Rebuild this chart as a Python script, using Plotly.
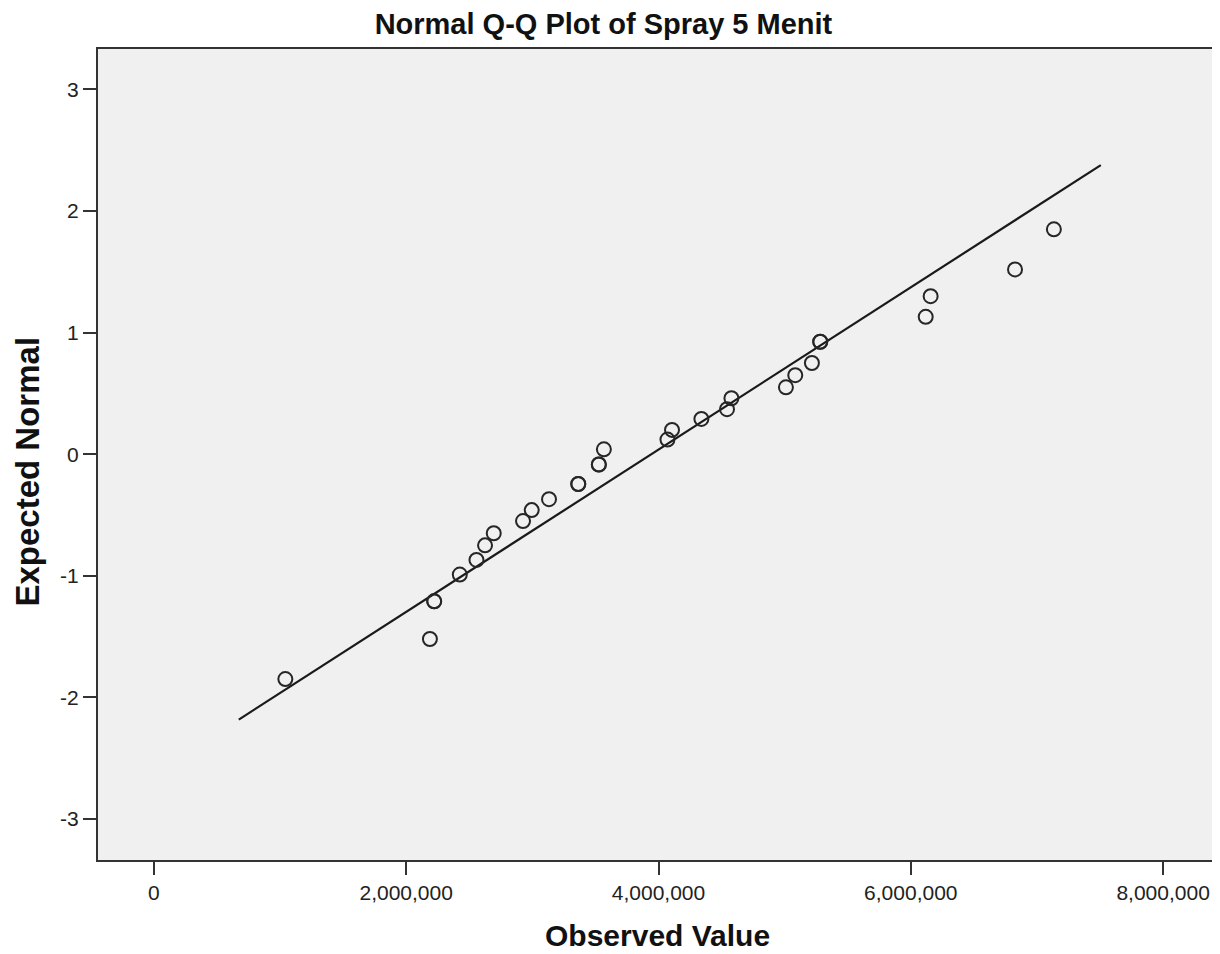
import plotly.graph_objects as go

observed = [1042000, 2188000, 2222000, 2222000, 2425000, 2557000, 2625000, 2694000,
            2926000, 2995000, 3132000, 3364000, 3364000, 3527000, 3527000, 3567000,
            4071000, 4107000, 4340000, 4543000, 4578000, 5010000, 5084000, 5216000,
            5282000, 5282000, 6118000, 6157000, 6826000, 7134000]
expected = [-1.85, -1.52, -1.21, -1.21, -0.99, -0.87, -0.75, -0.65,
            -0.55, -0.46, -0.37, -0.245, -0.245, -0.085, -0.085, 0.04,
            0.12, 0.20, 0.29, 0.37, 0.46, 0.55, 0.65, 0.75,
            0.925, 0.925, 1.13, 1.30, 1.52, 1.85]

# Reference line endpoints
line_x = [673000, 7506000]
line_y = [-2.183, 2.378]

x_tickvals = [0, 2000000, 4000000, 6000000, 8000000]
x_ticktext = ["0", "2,000,000", "4,000,000", "6,000,000", "8,000,000"]
y_tickvals = [-3, -2, -1, 0, 1, 2, 3]
y_ticktext = ["-3", "-2", "-1", "0", "1", "2", "3"]

FONT = "Liberation Sans, Arial, sans-serif"

fig = go.Figure()
fig.add_trace(go.Scatter(x=line_x, y=line_y, mode="lines",
                         line=dict(color="#1a1a1a", width=2.2),
                         hoverinfo="skip", showlegend=False))
fig.add_trace(go.Scatter(x=observed, y=expected, mode="markers",
                         marker=dict(symbol="circle-open", size=14, color="#262626",
                                     line=dict(color="#262626", width=2)),
                         showlegend=False))

fig.update_layout(
    width=1212, height=946,
    margin=dict(l=90, r=1, t=41, b=94),
    paper_bgcolor="white",
    plot_bgcolor="#f0f0f0",
    font=dict(family=FONT, color="#222222"),
    title=dict(text="Normal Q-Q Plot of Spray 5 Menit",
               font=dict(family=FONT, size=29, color="#111111", weight="bold"),
               xref="container", yref="container",
               x=0.4913, xanchor="center", y=0.9935, yanchor="top",
               pad=dict(t=0, b=0, l=0, r=0)),
    showlegend=False,
)
fig.update_xaxes(range=[-443000, 8427000], tickvals=x_tickvals, ticktext=x_ticktext,
                 showgrid=False, zeroline=False,
                 ticks="outside", ticklen=13, tickwidth=2, tickcolor="#333333",
                 showline=True, linecolor="#333333", linewidth=2, mirror=True,
                 tickfont=dict(family=FONT, size=21, color="#222222"))
fig.update_yaxes(range=[-3.338, 3.333], tickvals=y_tickvals, ticktext=y_ticktext,
                 showgrid=False, zeroline=False,
                 ticks="outside", ticklen=13, tickwidth=2, tickcolor="#333333",
                 showline=True, linecolor="#333333", linewidth=2, mirror=True,
                 tickfont=dict(family=FONT, size=21, color="#222222"))

fig.add_annotation(text="<b>Observed Value</b>", xref="paper", yref="paper",
                   x=0.5003, y=-0.0925, xanchor="center", yanchor="middle",
                   showarrow=False, font=dict(family=FONT, size=30, color="#111111"))
fig.add_annotation(text="<b>Expected Normal</b>", xref="paper", yref="paper",
                   x=-0.0627, y=0.4788, xanchor="center", yanchor="middle",
                   textangle=-90, showarrow=False,
                   font=dict(family=FONT, size=33, color="#111111"))

fig.write_html("out.html")
